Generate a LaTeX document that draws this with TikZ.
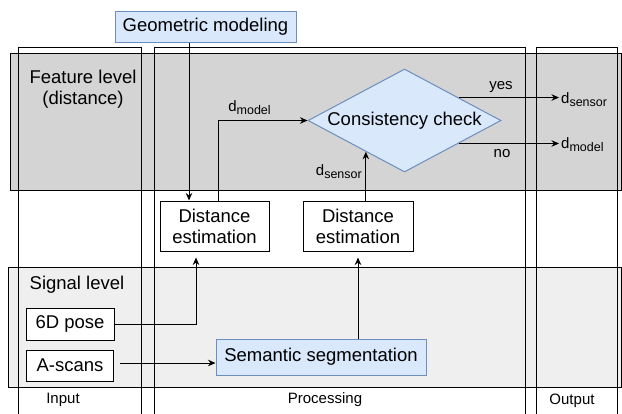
\documentclass[tikz,border=0pt]{standalone}
\usepackage{fontspec}
\setmainfont{Liberation Sans}
\usetikzlibrary{shapes.geometric,arrows.meta}

\definecolor{featgray}{RGB}{212,212,212}
\definecolor{siggray}{RGB}{239,239,239}
\definecolor{procfill}{RGB}{218,232,252}
\definecolor{procdraw}{RGB}{108,142,191}

\newcommand{\bigtxt}{\fontsize{18.5}{21}\selectfont}
\newcommand{\smalltxt}{\fontsize{15}{17}\selectfont}
\newcommand{\dvar}[1]{{\fontsize{15}{16}\selectfont d\raisebox{-3pt}{\fontsize{12.5}{12.5}\selectfont #1}}}

\tikzset{
  box/.style={draw=black, fill=white, line width=1pt, align=center, inner sep=0pt, font=\bigtxt},
  procbox/.style={draw=procdraw, fill=procfill, line width=1pt, inner sep=0pt, font=\bigtxt},
  lbl/.style={inner sep=0pt, font=\smalltxt},
  arr/.style={line width=1pt, -{Stealth[length=7.5pt,width=6.5pt]}},
}

\begin{document}
\begin{tikzpicture}[x=1pt,y=-1pt]

\useasboundingbox (0,0) rectangle (622,413);
\clip (0,0) rectangle (622,413);

\filldraw[fill=featgray, draw=black, line width=1pt] (10,53) rectangle (621.5,190);
\filldraw[fill=siggray, draw=black, line width=1pt] (8,267) rectangle (621.5,387);
\draw[line width=1pt] (18,47) rectangle (141,420);
\draw[line width=1pt] (154,47) rectangle (525,420);
\draw[line width=1pt] (536,47) rectangle (617,420);

\node[font=\bigtxt, align=center, inner sep=0pt] (feat) at (83,89) {Feature level\\(distance)};
\node[font=\bigtxt, inner sep=0pt] (sig) at (77,285) {Signal level};
\node[lbl] (inp) at (63,400) {Input};
\node[lbl] (proc) at (325,400) {Processing};
\node[lbl] (outp) at (572,401) {Output};

\node[procbox, minimum width=181pt, minimum height=31pt] (geo) at (205.5,26.5) {Geometric modeling};
\node[shape=diamond, draw=procdraw, fill=procfill, line width=1pt, inner sep=0pt, aspect=1.87,
  minimum width=193pt, minimum height=103pt, font=\bigtxt] (chk) at (404.5,120.5) {Consistency check};
\node[box, minimum width=109pt, minimum height=50pt] (de1) at (214.5,226) {Distance\\estimation};
\node[box, minimum width=110pt, minimum height=50pt] (de2) at (358,226) {Distance\\estimation};
\node[box, minimum width=88pt, minimum height=32pt] (pose) at (70,324) {6D pose};
\node[box, minimum width=87pt, minimum height=31pt] (ascan) at (70,365.5) {A-scans};
\node[procbox, minimum width=210pt, minimum height=36pt] (sem) at (321,357) {Semantic segmentation};

\node[lbl, anchor=base west, inner sep=2pt] (outs) at (559,103) {\dvar{sensor}};
\node[lbl, anchor=base west, inner sep=2pt] (outm) at (559,148) {\dvar{model}};
\node[lbl, anchor=base] (lmod) at (249.5,111) {\dvar{model}};
\node[lbl, anchor=base east] (lsen) at (362,175.5) {\dvar{sensor}};
\node[lbl, anchor=base] (lyes) at (501,89.5) {yes};
\node[lbl, anchor=base] (lno) at (502,157) {no};

\coordinate (ain) at ([shift={(6pt,2.5pt)}]ascan.east);

\draw[arr] ([xshift=-16.5pt]geo.south) -- ([xshift=-25.5pt]de1.north);
\draw[arr] ([xshift=3.5pt]de1.north) |- (chk.west);
\draw[arr] (de2.north -| chk.219) -- (chk.219);
\draw[arr] (chk.23) -- (chk.23 -| outs.west);
\draw[arr] (chk.-23) -- (chk.-23 -| outm.west);
\draw[arr] (pose.east) -| ([shift={(-18.5pt,-6pt)}]de1.south);
\draw[arr] (ain) -- (ain -| sem.west);
\draw[arr] ([xshift=37pt]sem.north) -- ([yshift=-6pt]de2.south);

\end{tikzpicture}
\end{document}
